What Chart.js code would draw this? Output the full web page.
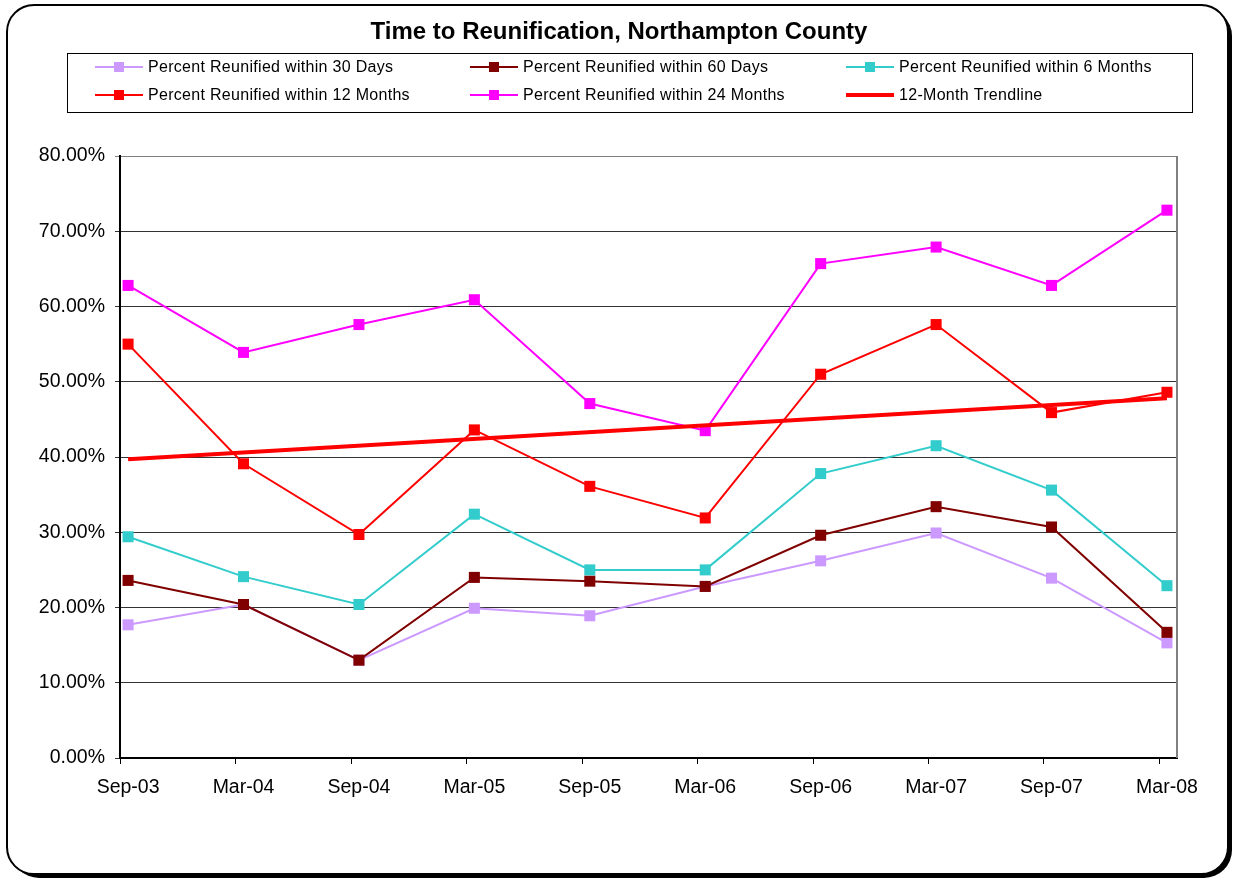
<!DOCTYPE html>
<html>
<head>
<meta charset="utf-8">
<script src="https://cdn.jsdelivr.net/npm/chart.js@4.4.0/dist/chart.umd.min.js"></script>
<style>
  html, body { margin: 0; padding: 0; background: #fff; }
  #wrap { width: 1235px; height: 882px; }
</style>
</head>
<body>
<div id="wrap"><canvas id="myChartCanvas" width="1235" height="882"></canvas></div>
<script>
// values (percent)
var periods = ['Sep-03', 'Mar-04', 'Sep-04', 'Mar-05', 'Sep-05', 'Mar-06', 'Sep-06', 'Mar-07', 'Sep-07', 'Mar-08'];
var within30Days = [17.7, 20.4, 13.0, 19.9, 18.9, 22.8, 26.2, 29.9, 23.9, 15.3];
var within60Days = [23.6, 20.4, 13.0, 24.0, 23.5, 22.8, 29.6, 33.4, 30.7, 16.7];
var within6Months = [29.4, 24.1, 20.4, 32.4, 25.0, 25.0, 37.8, 41.5, 35.6, 22.9];
var within12Months = [55.0, 39.1, 29.7, 43.6, 36.1, 31.9, 51.0, 57.6, 45.9, 48.6];
var within24Months = [62.8, 53.9, 57.6, 60.9, 47.1, 43.5, 65.7, 67.9, 62.8, 72.8];
var trendStart = 39.7;
var trendEnd = 47.8;
var yTicks = [0, 10, 20, 30, 40, 50, 60, 70, 80];

var xMin = -0.07;
var xMax = periods.length - 1 + 0.087;

function points(values) {
    return values.map(function (v, i) { return { x: i, y: v }; });
}

var seriesInfo = [
    { label: 'Percent Reunified within 30 Days', values: within30Days, color: '#CC99FF' },
    { label: 'Percent Reunified within 60 Days', values: within60Days, color: '#800000' },
    { label: 'Percent Reunified within 6 Months', values: within6Months, color: '#33CCCC' },
    { label: 'Percent Reunified within 12 Months', values: within12Months, color: '#FF0000' },
    { label: 'Percent Reunified within 24 Months', values: within24Months, color: '#FF00FF' }
];

var datasets = seriesInfo.map(function (s, i) {
    return {
        label: s.label,
        data: points(s.values),
        borderColor: s.color,
        backgroundColor: s.color,
        borderWidth: 2,
        pointStyle: 'rect',
        pointRadius: 7.8,
        pointBorderWidth: 0,
        pointHoverRadius: 7.8,
        order: 10 - i
    };
});
datasets.push({
    label: '12-Month Trendline',
    data: [{ x: 0, y: trendStart }, { x: periods.length - 1, y: trendEnd }],
    borderColor: '#FF0000',
    backgroundColor: '#FF0000',
    borderWidth: 4,
    pointRadius: 0,
    order: 1
});

var frame = {
    id: 'frame',
    beforeDraw: function (chart) {
        var ctx = chart.ctx;
        ctx.save();
        ctx.fillStyle = '#fff';
        ctx.fillRect(0, 0, chart.width, chart.height);

        // rounded outer border with shadow
        ctx.beginPath();
        ctx.roundRect(11, 8, 1221, 870, 28);
        ctx.fillStyle = '#000';
        ctx.fill();
        ctx.beginPath();
        ctx.roundRect(7, 5, 1221, 869, 27);
        ctx.fillStyle = '#fff';
        ctx.fill();
        ctx.lineWidth = 2;
        ctx.strokeStyle = '#000';
        ctx.stroke();

        // title
        ctx.fillStyle = '#000';
        ctx.font = 'bold 24px "Liberation Sans", Arial, sans-serif';
        ctx.textAlign = 'center';
        ctx.textBaseline = 'middle';
        ctx.fillText('Time to Reunification, Northampton County', 619, 32);

        // legend box
        ctx.lineWidth = 1;
        ctx.strokeStyle = '#000';
        ctx.strokeRect(67.5, 53.5, 1125, 59);

        var cols = [95, 470, 846];
        var rows = [67, 95];
        ctx.font = '16px "Liberation Sans", Arial, sans-serif';
        ctx.letterSpacing = '0.3px';
        ctx.textAlign = 'left';
        chart.data.datasets.forEach(function (ds, i) {
            var x = cols[i % 3];
            var y = rows[Math.floor(i / 3)];
            ctx.strokeStyle = ds.borderColor;
            ctx.lineWidth = ds.borderWidth;
            ctx.beginPath();
            ctx.moveTo(x, y);
            ctx.lineTo(x + 48, y);
            ctx.stroke();
            if (ds.pointRadius > 0) {
                ctx.fillStyle = ds.backgroundColor;
                ctx.fillRect(x + 19, y - 5, 10, 10);
            }
            ctx.fillStyle = '#000';
            ctx.fillText(ds.label, x + 53, y + 1);
        });
        ctx.restore();
    },
    beforeDatasetsDraw: function (chart) {
        var a = chart.chartArea;
        var ctx = chart.ctx;
        ctx.save();
        ctx.strokeStyle = '#808080';
        ctx.lineWidth = 2;
        ctx.beginPath();
        ctx.moveTo(a.right, a.top);
        ctx.lineTo(a.right, a.bottom);
        ctx.stroke();
        // category tick marks sit just left of each point, as in the source
        var xs = chart.scales.x;
        ctx.strokeStyle = '#000';
        ctx.lineWidth = 1;
        ctx.beginPath();
        periods.forEach(function (p, i) {
            var px = Math.round(xs.getPixelForValue(i + xMin)) + 0.5;
            ctx.moveTo(px, a.bottom);
            ctx.lineTo(px, a.bottom + 6);
        });
        ctx.stroke();
        ctx.restore();
    }
};

var ctx = document.getElementById('myChartCanvas').getContext('2d');

var myChart = new Chart(ctx, {
    type: 'line',
    data: { datasets: datasets },
    plugins: [frame],
    options: {
        responsive: false,
        animation: false,
        layout: { padding: { left: 10, right: 58, top: 156, bottom: 10 } },
        plugins: {
            legend: { display: false },
            title: { display: false },
            tooltip: { enabled: false }
        },
        scales: {
            x: {
                type: 'linear',
                min: xMin,
                max: xMax,
                afterBuildTicks: function (scale) {
                    scale.ticks = periods.map(function (p, i) { return { value: i }; });
                },
                afterFit: function (scale) { scale.height = 114; },
                ticks: {
                    color: '#000',
                    font: { family: '"Liberation Sans", Arial, sans-serif', size: 19.5 },
                    padding: 18,
                    maxRotation: 0,
                    autoSkip: false,
                    callback: function (v) { return periods[v]; }
                },
                grid: { drawOnChartArea: false, drawTicks: false, tickLength: 6 },
                border: { color: '#000', width: 2 }
            },
            y: {
                min: 0,
                max: 80,
                afterBuildTicks: function (scale) {
                    scale.ticks = yTicks.map(function (v) { return { value: v }; });
                },
                afterFit: function (scale) { scale.width = 110; },
                ticks: {
                    color: '#000',
                    font: { family: '"Liberation Sans", Arial, sans-serif', size: 19.5 },
                    padding: 10,
                    callback: function (v) { return v.toFixed(2) + '%'; }
                },
                grid: {
                    color: function (c) { return c.tick && c.tick.value === 80 ? '#808080' : '#333'; },
                    lineWidth: 1,
                    tickLength: 5
                },
                border: { color: '#000', width: 2 }
            }
        }
    }
});
</script>
</body>
</html>
